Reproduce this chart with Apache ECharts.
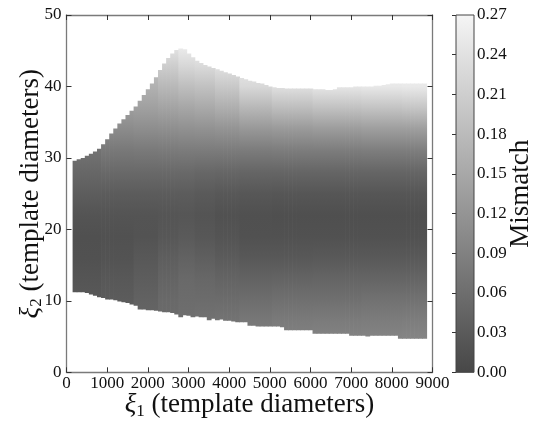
<!DOCTYPE html>
<html>
<head>
<meta charset="utf-8">
<title>Mismatch over the template plane</title>
<script src="https://cdn.jsdelivr.net/npm/echarts@6/dist/echarts.min.js"></script>
<style>
  html, body { margin: 0; padding: 0; background: #ffffff; }
  #chart { width: 538px; height: 422px; }
</style>
</head>
<body>
<div id="chart"></div>
<script>
// ---- data -------------------------------------------------------------

// Axis ticks
const xi1Ticks = [0, 1000, 2000, 3000, 4000, 5000, 6000, 7000, 8000, 9000];
const xi2Ticks = [0, 10, 20, 30, 40, 50];
const mismatchTicks = [0.00, 0.03, 0.06, 0.09, 0.12, 0.15, 0.18, 0.21, 0.24, 0.27];

// Sampled columns of the covered region: xi1 from 200 to 8800 every 100,
// each column spans xi1 +/- 50.
const xi1First = 200;
const xi1Step = 100;

// Upper edge of the covered region (xi2) for each column
const xi2Upper = [
  29.6, 29.8, 30.0, 30.3, 30.6, 30.9, 31.3, 31.9, 32.6, 33.4,
  34.1, 34.8, 35.4, 36.0, 36.6, 37.2, 38.0, 38.8, 39.6, 40.4,
  41.3, 42.3, 43.2, 44.0, 44.6, 45.1, 45.3, 45.2, 44.6, 44.1,
  43.6, 43.3, 43.0, 42.8, 42.6, 42.4, 42.2, 42.0, 41.8, 41.6,
  41.4, 41.2, 41.0, 40.8, 40.7, 40.5, 40.4, 40.2, 40.0, 39.9,
  39.8, 39.8, 39.7, 39.7, 39.7, 39.7, 39.7, 39.7, 39.7, 39.6,
  39.6, 39.6, 39.5, 39.5, 39.6, 39.9, 39.9, 39.9, 39.9, 40.0,
  40.0, 40.0, 40.0, 40.0, 40.1, 40.1, 40.2, 40.3, 40.4, 40.4,
  40.4, 40.4, 40.4, 40.4, 40.4, 40.4, 40.4
];

// Lower edge of the covered region (xi2) for each column
const xi2Lower = [
  11.2, 11.2, 11.2, 11.1, 10.9, 10.7, 10.5, 10.4, 10.2, 10.2,
  10.1, 9.9, 9.8, 9.7, 9.5, 9.3, 8.8, 8.8, 8.7, 8.7,
  8.6, 8.5, 8.4, 8.4, 8.3, 8.1, 7.7, 8.0, 7.9, 7.7,
  7.8, 7.7, 7.7, 7.3, 7.5, 7.3, 7.4, 7.2, 7.2, 7.1,
  7.0, 7.0, 7.0, 6.5, 6.5, 6.4, 6.4, 6.4, 6.4, 6.4,
  6.4, 6.3, 5.9, 5.9, 5.9, 5.9, 5.9, 5.9, 5.9, 5.4,
  5.4, 5.4, 5.4, 5.4, 5.4, 5.4, 5.4, 5.4, 5.1, 5.1,
  5.1, 5.1, 5.0, 5.1, 5.1, 5.1, 5.1, 5.1, 5.1, 5.1,
  4.7, 4.7, 4.7, 4.7, 4.7, 4.7, 4.7
];

// Mismatch profiles: xi2 levels (top to bottom) at a few xi1 positions
const xi2Levels = [46, 43, 40, 37, 34, 31, 28, 25, 22, 19, 16, 13, 10, 7, 4];
const profileXi1 = [400, 1200, 2000, 2500, 2900, 3400, 3900, 4600, 5500, 6600, 7800, 8600];
const mismatch400  = [0.12, 0.11, 0.10, 0.09, 0.08, 0.066, 0.050, 0.034, 0.020, 0.014, 0.016, 0.022, 0.028, 0.032, 0.034];
const mismatch1200 = [0.20, 0.18, 0.16, 0.135, 0.105, 0.076, 0.052, 0.033, 0.020, 0.016, 0.019, 0.026, 0.033, 0.038, 0.040];
const mismatch2000 = [0.22, 0.19, 0.165, 0.138, 0.108, 0.078, 0.052, 0.032, 0.020, 0.019, 0.026, 0.034, 0.042, 0.048, 0.050];
const mismatch2500 = [0.25, 0.21, 0.175, 0.142, 0.110, 0.079, 0.052, 0.032, 0.022, 0.025, 0.035, 0.045, 0.052, 0.056, 0.058];
const mismatch2900 = [0.26, 0.225, 0.185, 0.148, 0.113, 0.080, 0.052, 0.032, 0.024, 0.030, 0.042, 0.052, 0.058, 0.062, 0.065];
const mismatch3400 = [0.26, 0.23, 0.19, 0.152, 0.115, 0.080, 0.050, 0.030, 0.020, 0.025, 0.037, 0.049, 0.058, 0.066, 0.070];
const mismatch3900 = [0.27, 0.24, 0.20, 0.160, 0.118, 0.080, 0.048, 0.027, 0.016, 0.020, 0.031, 0.045, 0.058, 0.070, 0.075];
const mismatch4600 = [0.27, 0.252, 0.225, 0.174, 0.124, 0.081, 0.047, 0.025, 0.014, 0.016, 0.027, 0.043, 0.060, 0.076, 0.086];
const mismatch5500 = [0.27, 0.26, 0.238, 0.183, 0.128, 0.082, 0.046, 0.024, 0.012, 0.015, 0.027, 0.045, 0.063, 0.080, 0.092];
const mismatch6600 = [0.27, 0.264, 0.246, 0.190, 0.131, 0.083, 0.046, 0.023, 0.012, 0.016, 0.028, 0.046, 0.064, 0.082, 0.096];
const mismatch7800 = [0.27, 0.266, 0.250, 0.193, 0.133, 0.084, 0.046, 0.023, 0.012, 0.016, 0.028, 0.047, 0.066, 0.084, 0.098];
const mismatch8600 = [0.27, 0.267, 0.252, 0.195, 0.134, 0.084, 0.046, 0.023, 0.012, 0.016, 0.028, 0.047, 0.066, 0.085, 0.100];
const mismatchProfiles = [
  mismatch400, mismatch1200, mismatch2000, mismatch2500, mismatch2900, mismatch3400,
  mismatch3900, mismatch4600, mismatch5500, mismatch6600, mismatch7800, mismatch8600
];

const mismatchMin = 0;
const mismatchMax = 0.27;

// ---- styling ----------------------------------------------------------

const FONT = 'Liberation Serif';
const TEXT = '#111111';
const FRAME = '#7a7a7a';
const TICK = '#333333';
const GRAY_LO = 71;   // colour of mismatch 0
const GRAY_HI = 245;  // colour of mismatch 0.27

// grey colour map shared by the field and the colour bar
function grayOf(v) {
  const t = Math.max(0, Math.min(1, (v - mismatchMin) / (mismatchMax - mismatchMin)));
  const g = Math.round(GRAY_LO + t * (GRAY_HI - GRAY_LO));
  return 'rgb(' + g + ',' + g + ',' + g + ')';
}

function nearestProfile(x) {
  let best = 0;
  for (let i = 1; i < profileXi1.length; i++) {
    if (Math.abs(profileXi1[i] - x) < Math.abs(profileXi1[best] - x)) best = i;
  }
  return best;
}

// one item per column: [xi1 start, xi1 end, lower xi2, upper xi2, profile index]
const columns = xi2Upper.map((hi, i) => {
  const c = xi1First + i * xi1Step;
  return [c - xi1Step / 2, c + xi1Step / 2, xi2Lower[i], hi, nearestProfile(c)];
});

function renderColumn(params, api) {
  const x0 = api.value(0), x1 = api.value(1), lo = api.value(2), hi = api.value(3), p = api.value(4);
  const a = api.coord([x0, hi]);
  const b = api.coord([x1, lo]);
  const yTop = api.coord([0, xi2Levels[0]])[1];
  const yBot = api.coord([0, xi2Levels[xi2Levels.length - 1]])[1];
  const stops = xi2Levels.map((lv, k) => ({
    offset: (api.coord([0, lv])[1] - yTop) / (yBot - yTop),
    color: grayOf(mismatchProfiles[p][k])
  }));
  return {
    type: 'rect',
    shape: { x: a[0], y: a[1], width: b[0] - a[0] + 0.7, height: b[1] - a[1] },
    style: { fill: new echarts.graphic.LinearGradient(0, yTop, 0, yBot, stops, true) }
  };
}

function renderColorbar(params, api) {
  const a = api.coord([0, mismatchMax]);
  const b = api.coord([1, mismatchMin]);
  return {
    type: 'rect',
    shape: { x: a[0], y: a[1], width: b[0] - a[0], height: b[1] - a[1] },
    style: {
      fill: new echarts.graphic.LinearGradient(0, 1, 0, 0, [
        { offset: 0, color: grayOf(mismatchMin) },
        { offset: 1, color: grayOf(mismatchMax) }
      ]),
      stroke: '#444', lineWidth: 1
    }
  };
}

const titleRich = {
  g: { fontFamily: FONT, fontSize: 27, fontStyle: 'italic', color: TEXT, lineHeight: 30 },
  s: { fontFamily: FONT, fontSize: 17, color: TEXT, lineHeight: 12, verticalAlign: 'bottom' },
  t: { fontFamily: FONT, fontSize: 27, color: TEXT, lineHeight: 30 }
};

const frameLine = { show: true, onZero: false, lineStyle: { color: FRAME, width: 1.3 } };
const innerTick = { show: true, inside: true, length: 5, lineStyle: { color: TICK, width: 1 } };
const tickLabel = { fontFamily: FONT, fontSize: 17, color: TEXT };

const chart = echarts.init(document.getElementById('chart'), null, { renderer: 'canvas' });

chart.setOption({
  animation: false,
  backgroundColor: '#ffffff',
  grid: [
    { left: 66.5, top: 15, width: 366, height: 357.3, outerBoundsMode: 'none', containLabel: false },
    { left: 456, top: 15, width: 18, height: 357.3, outerBoundsMode: 'none', containLabel: false }
  ],
  xAxis: [
    {
      gridIndex: 0, type: 'value', position: 'bottom',
      min: xi1Ticks[0], max: xi1Ticks[xi1Ticks.length - 1], interval: xi1Ticks[1] - xi1Ticks[0],
      axisLine: frameLine, axisTick: innerTick, splitLine: { show: false },
      axisLabel: Object.assign({ margin: 3, formatter: v => String(v) }, tickLabel),
      name: '{g|ξ}{s|1}{t| (template diameters)}',
      nameLocation: 'middle', nameGap: 18, nameMoveOverlap: false,
      nameTextStyle: { rich: titleRich }
    },
    {
      gridIndex: 0, type: 'value', position: 'top',
      min: xi1Ticks[0], max: xi1Ticks[xi1Ticks.length - 1], interval: xi1Ticks[1] - xi1Ticks[0],
      axisLine: frameLine, axisTick: innerTick, splitLine: { show: false },
      axisLabel: { show: false }
    },
    { gridIndex: 1, type: 'value', min: 0, max: 1, show: false }
  ],
  yAxis: [
    {
      gridIndex: 0, type: 'value', position: 'left',
      min: xi2Ticks[0], max: xi2Ticks[xi2Ticks.length - 1], interval: xi2Ticks[1] - xi2Ticks[0],
      axisLine: frameLine, axisTick: innerTick, splitLine: { show: false },
      axisLabel: Object.assign({ margin: 5, formatter: v => String(v) }, tickLabel),
      name: '{g|ξ}{s|2}{t| (template diameters)}',
      nameLocation: 'middle', nameGap: 21, nameRotate: 90, nameMoveOverlap: false,
      nameTextStyle: { rich: titleRich }
    },
    {
      gridIndex: 0, type: 'value', position: 'right',
      min: xi2Ticks[0], max: xi2Ticks[xi2Ticks.length - 1], interval: xi2Ticks[1] - xi2Ticks[0],
      axisLine: frameLine, axisTick: innerTick, splitLine: { show: false },
      axisLabel: { show: false }
    },
    {
      gridIndex: 1, type: 'value', position: 'right',
      min: mismatchTicks[0], max: mismatchTicks[mismatchTicks.length - 1],
      interval: mismatchTicks[1] - mismatchTicks[0],
      axisLine: { show: false },
      axisTick: { show: true, inside: true, length: 4, lineStyle: { color: TICK, width: 1 } },
      splitLine: { show: false },
      axisLabel: Object.assign({ margin: 3, formatter: v => v.toFixed(2) }, tickLabel),
      name: 'Mismatch', nameLocation: 'middle', nameGap: 33, nameRotate: 90, nameMoveOverlap: false,
      nameTextStyle: { fontFamily: FONT, fontSize: 27, color: TEXT }
    }
  ],
  series: [
    {
      type: 'custom', name: 'mismatch', xAxisIndex: 0, yAxisIndex: 0,
      renderItem: renderColumn, data: columns, clip: true, z: 1
    },
    {
      type: 'custom', name: 'colorbar', xAxisIndex: 2, yAxisIndex: 2,
      renderItem: renderColorbar, data: [[0, mismatchMax]], z: 1
    }
  ]
});
</script>
</body>
</html>
